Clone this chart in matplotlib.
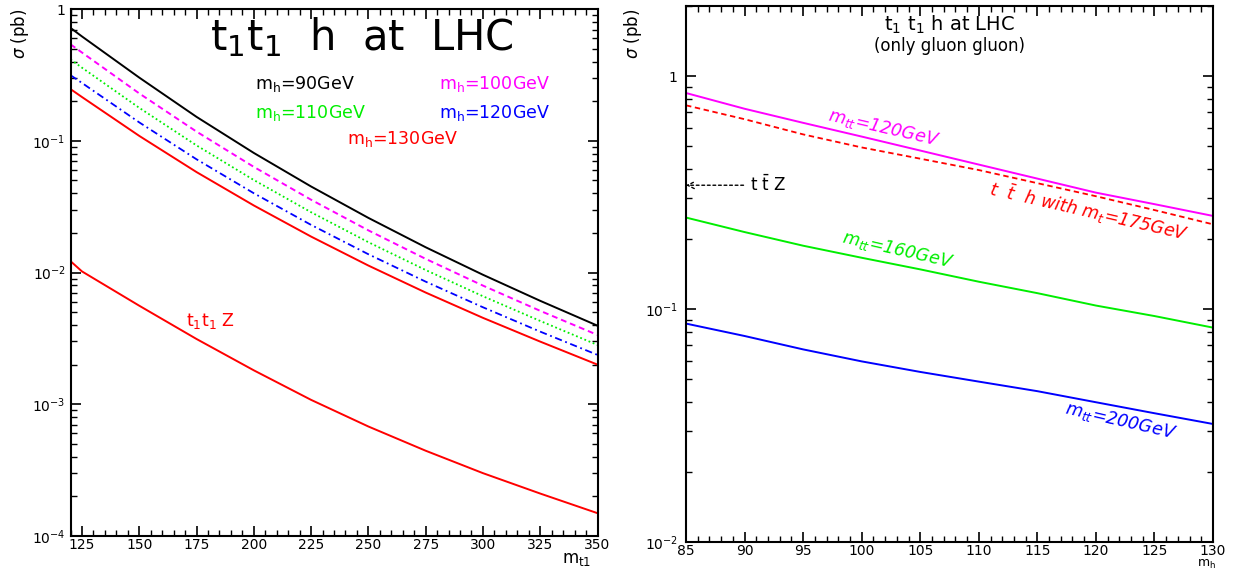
import math
import matplotlib
matplotlib.use("Agg")
import matplotlib.pyplot as plt
from matplotlib.ticker import MultipleLocator, LogLocator, FuncFormatter, NullFormatter

# ---- left panel: sigma(t1 t1 h) vs m_t1 for several m_h
m_stop = [120, 125, 150, 175, 200, 225, 250, 275, 300, 325, 350]
sig_mh90 = [0.72, 0.62, 0.302, 0.152, 0.0809, 0.045, 0.026, 0.01556, 0.00962, 0.0061, 0.00395]
sig_mh100 = [0.54, 0.468, 0.229, 0.1175, 0.0634, 0.0357, 0.0209, 0.0127, 0.00796, 0.00512, 0.00336]
sig_mh110 = [0.415, 0.359, 0.178, 0.0923, 0.0504, 0.0287, 0.0170, 0.01045, 0.00661, 0.00429, 0.00282]
sig_mh120 = [0.315, 0.275, 0.138, 0.0724, 0.040, 0.023, 0.01377, 0.00853, 0.00545, 0.00356, 0.00237]
sig_mh130 = [0.247, 0.215, 0.109, 0.0579, 0.0323, 0.01875, 0.0113, 0.00705, 0.00453, 0.00299, 0.0020]
sig_t1t1z = [0.0122, 0.0102, 0.0056, 0.00313, 0.00181, 0.00108, 0.000678, 0.000444, 0.0003, 0.00021, 0.000149]

# ---- right panel: sigma vs m_h (gluon gluon only)
m_higgs = [85, 90, 95, 100, 105, 110, 115, 120, 125, 130]
sig_mtt120 = [0.846, 0.724, 0.63, 0.55, 0.479, 0.417, 0.363, 0.316, 0.282, 0.251]
sig_tth = [0.749, 0.653, 0.562, 0.494, 0.442, 0.395, 0.347, 0.305, 0.266, 0.231]
sig_mtt160 = [0.247, 0.214, 0.187, 0.166, 0.148, 0.131, 0.117, 0.1035, 0.0933, 0.0832]
sig_mtt200 = [0.0866, 0.0766, 0.0671, 0.0596, 0.0537, 0.0488, 0.0444, 0.0398, 0.0357, 0.0321]
ttz_level = 0.34

MAG = "#ff00ff"
GRN = "#00ee00"
BLU = "#0000ff"
RED = "#ff0000"

plt.rcParams["font.family"] = "DejaVu Sans"

fig = plt.figure(figsize=(12.33, 5.69), dpi=100)
ax1 = fig.add_axes([0.0572, 0.058, 0.4274, 0.926])
ax2 = fig.add_axes([0.5564, 0.0475, 0.4274, 0.942])


def log_label(v, pos):
    if abs(v - 1) < 1e-9:
        return "1"
    e = int(round(math.log10(v)))
    return r"$\mathregular{10^{%d}}$" % e


for ax in (ax1, ax2):
    ax.set_yscale("log")
    ax.tick_params(which="both", direction="in", top=True, right=True, labelsize=10)
    ax.tick_params(which="major", length=7, width=1.2)
    ax.tick_params(which="minor", length=4, width=1)
    ax.tick_params(axis="x", pad=1.5)
    ax.yaxis.set_major_locator(LogLocator(base=10))
    ax.yaxis.set_minor_locator(LogLocator(base=10, subs=range(2, 10)))
    ax.yaxis.set_major_formatter(FuncFormatter(log_label))
    ax.yaxis.set_minor_formatter(NullFormatter())
    for s in ax.spines.values():
        s.set_linewidth(1.5)
ax2.tick_params(axis="y", pad=6)

# left panel
ax1.plot(m_stop, sig_mh90, color="black", lw=1.4)
ax1.plot(m_stop, sig_mh100, color=MAG, lw=1.4, ls=(0, (3, 2)))
ax1.plot(m_stop, sig_mh110, color=GRN, lw=1.3, ls=(0, (1, 1.5)))
ax1.plot(m_stop, sig_mh120, color=BLU, lw=1.3, ls=(0, (4, 2, 1, 2)))
ax1.plot(m_stop, sig_mh130, color=RED, lw=1.4)
ax1.plot(m_stop, sig_t1t1z, color=RED, lw=1.4)
ax1.set_xlim(120, 350)
ax1.set_ylim(1e-4, 1)
ax1.xaxis.set_major_locator(MultipleLocator(25))
ax1.xaxis.set_minor_locator(MultipleLocator(5))

ax1.text(181, 0.49, r"t$_\mathregular{1}$t$_\mathregular{1}$  h  at  LHC", fontsize=30,
         ha="left", va="baseline")
ax1.text(200.7, 0.27, r"m$_\mathregular{h}$=90GeV", color="black", fontsize=12.5, va="center")
ax1.text(280.6, 0.27, r"m$_\mathregular{h}$=100GeV", color=MAG, fontsize=12.5, va="center")
ax1.text(200.7, 0.162, r"m$_\mathregular{h}$=110GeV", color=GRN, fontsize=12.5, va="center")
ax1.text(280.6, 0.162, r"m$_\mathregular{h}$=120GeV", color=BLU, fontsize=12.5, va="center")
ax1.text(240.7, 0.1026, r"m$_\mathregular{h}$=130GeV", color=RED, fontsize=12.5, va="center")
ax1.text(170.4, 0.00431, r"t$_\mathregular{1}$t$_\mathregular{1}$ Z", color=RED, fontsize=12.5, va="center")

# right panel
ax2.plot(m_higgs, sig_mtt120, color=MAG, lw=1.4)
ax2.plot(m_higgs, sig_tth, color=RED, lw=1.3, ls=(0, (3, 2)))
ax2.plot(m_higgs, sig_mtt160, color=GRN, lw=1.4)
ax2.plot(m_higgs, sig_mtt200, color=BLU, lw=1.4)
ax2.set_xlim(85, 130)
ax2.set_ylim(0.01, 2.0)
ax2.xaxis.set_major_locator(MultipleLocator(5))
ax2.xaxis.set_minor_locator(MultipleLocator(1))

ax2.text(107.5, 1.66, r"t$_\mathregular{1}$ t$_\mathregular{1}$ h at LHC", fontsize=14, ha="center", va="center")
ax2.text(107.5, 1.35, "(only gluon gluon)", fontsize=12, ha="center", va="center")
ax2.text(101.9, 0.596, r"m$_\mathregular{tt}$=120GeV", color=MAG, fontsize=12.5, style="italic",
         rotation=-13, ha="center", va="center")
ax2.text(119.4, 0.262, r"t  $\bar{\mathregular{t}}$  h with m$_\mathregular{t}$=175GeV", color=RED,
         fontsize=12.5, style="italic", rotation=-13, ha="center", va="center")
ax2.text(103.1, 0.179, r"m$_\mathregular{tt}$=160GeV", color=GRN, fontsize=12.5, style="italic",
         rotation=-13, ha="center", va="center")
ax2.text(122.1, 0.0332, r"m$_\mathregular{tt}$=200GeV", color=BLU, fontsize=12.5, style="italic",
         rotation=-13, ha="center", va="center")
ax2.annotate(r"t $\bar{\mathregular{t}}$ Z", xy=(85, ttz_level), xytext=(90.5, ttz_level),
             fontsize=12, va="center",
             arrowprops=dict(arrowstyle="->", color="black", lw=1, ls=(0, (2, 2)),
                             shrinkA=3, shrinkB=0))

# axis names sit under the last tick label, as in the original
fig.text(591 / 1233, 0.002, r"m$_\mathregular{t1}$", ha="right", va="bottom", fontsize=12)
fig.text(1216 / 1233, -0.004, r"m$_\mathregular{h}$", ha="right", va="bottom", fontsize=9)

fig.text(0.016, 0.985, r"$\sigma$ (pb)", rotation=90, ha="center", va="top", fontsize=12)
fig.text(0.513, 0.985, r"$\sigma$ (pb)", rotation=90, ha="center", va="top", fontsize=12)

fig.savefig("out.png", dpi=100)
